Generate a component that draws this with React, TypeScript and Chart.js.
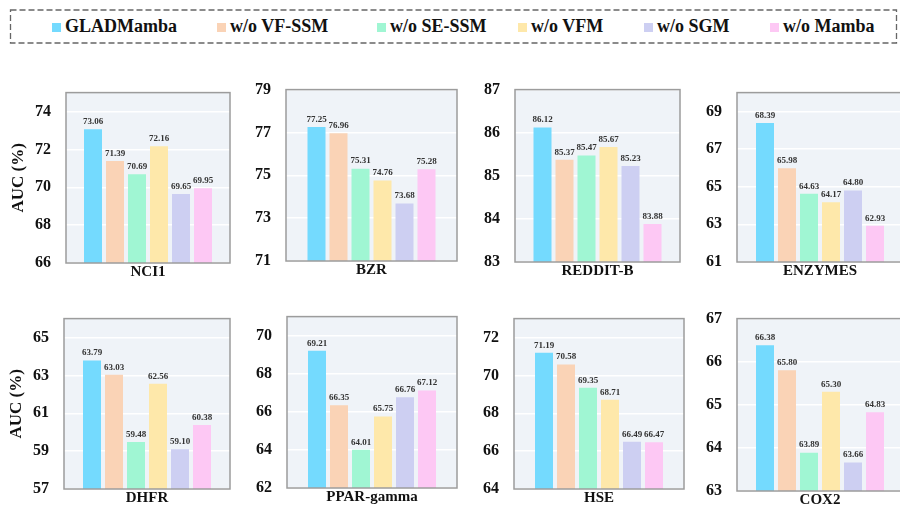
import React, { useEffect, useRef } from 'react';
import { Chart, registerables } from 'chart.js';

Chart.register(...registerables);

// ---------- data ----------
const DATASET_NAMES = ['NCI1', 'BZR', 'REDDIT-B', 'ENZYMES', 'DHFR', 'PPAR-gamma', 'HSE', 'COX2'];
const SERIES_NAMES = ['GLADMamba', 'w/o VF-SSM', 'w/o SE-SSM', 'w/o VFM', 'w/o SGM', 'w/o Mamba'];

const GLADMAMBA = [73.06, 77.25, 86.12, 68.39, 63.79, 69.21, 71.19, 66.38];
const WO_VF_SSM = [71.39, 76.96, 85.37, 65.98, 63.03, 66.35, 70.58, 65.8];
const WO_SE_SSM = [70.69, 75.31, 85.47, 64.63, 59.48, 64.01, 69.35, 63.89];
const WO_VFM = [72.16, 74.76, 85.67, 64.17, 62.56, 65.75, 68.71, 65.3];
const WO_SGM = [69.65, 73.68, 85.23, 64.8, 59.1, 66.76, 66.49, 63.66];
const WO_MAMBA = [69.95, 75.28, 83.88, 62.93, 60.38, 67.12, 66.47, 64.83];

const Y_MIN = [66, 71, 83, 61, 57, 62, 64, 63];
const Y_MAX = [75, 79, 87, 70, 66, 71, 73, 67];
const Y_TICKS = [
  [66, 68, 70, 72, 74],
  [71, 73, 75, 77, 79],
  [83, 84, 85, 86, 87],
  [61, 63, 65, 67, 69],
  [57, 59, 61, 63, 65],
  [62, 64, 66, 68, 70],
  [64, 66, 68, 70, 72],
  [63, 64, 65, 66, 67],
];

const SERIES = [GLADMAMBA, WO_VF_SSM, WO_SE_SSM, WO_VFM, WO_SGM, WO_MAMBA];

// ---------- style / layout ----------
const COLORS = ['#74DAFE', '#FAD3B6', '#A0F6D3', '#FEE8AA', '#CDCFF2', '#FDC8F4'];
const FONT = '"Liberation Serif", "Times New Roman", serif';
const PLOT_BG = '#EFF3F8';
const FRAME = '#9C9C9C';

// plot-area boxes: left, top, right, bottom
const PANEL_BOX = [
  [66, 88, 230, 263],
  [286, 85, 457, 261],
  [515, 85, 680, 262],
  [737, 88, 903, 262],
  [64, 314, 230, 489],
  [287, 312, 457, 488],
  [514, 314, 684, 489],
  [737, 314, 903, 491],
];
const Y_AXIS_W = 58;
const PAD_TOP = 20;
const X_AXIS_H = 26;
const PAD_RIGHT = 3;

const LEGEND_X = [52, 217, 377, 518, 644, 770];

const bgPlugin = {
  id: 'plotBg',
  beforeDraw(chart: any) {
    const { ctx, chartArea } = chart;
    ctx.save();
    ctx.fillStyle = PLOT_BG;
    ctx.fillRect(chartArea.left, chartArea.top, chartArea.right - chartArea.left, chartArea.bottom - chartArea.top);
    ctx.restore();
  },
};

const frameAndLabelsPlugin = {
  id: 'frameLabels',
  afterDatasetsDraw(chart: any) {
    const { ctx, chartArea } = chart;
    ctx.save();
    ctx.strokeStyle = FRAME;
    ctx.lineWidth = 1.5;
    ctx.strokeRect(chartArea.left, chartArea.top, chartArea.right - chartArea.left, chartArea.bottom - chartArea.top);
    ctx.font = `bold 9px ${FONT}`;
    ctx.fillStyle = '#333';
    ctx.textAlign = 'center';
    ctx.textBaseline = 'bottom';
    chart.data.datasets.forEach((ds: any, i: number) => {
      const meta = chart.getDatasetMeta(i);
      const bar = meta.data[0];
      if (!bar) return;
      ctx.fillText(Number(ds.data[0]).toFixed(2), bar.x, bar.y - 3);
    });
    ctx.restore();
  },
};

function Panel({ idx }: { idx: number }) {
  const ref = useRef<HTMLCanvasElement>(null);
  const [l, t, r, b] = PANEL_BOX[idx];
  const plotW = r - l;
  const w = Y_AXIS_W + plotW + PAD_RIGHT;
  const h = PAD_TOP + (b - t) + X_AXIS_H;

  useEffect(() => {
    const chart = new Chart(ref.current as HTMLCanvasElement, {
      type: 'bar',
      data: {
        labels: [DATASET_NAMES[idx]],
        datasets: SERIES.map((s, k) => ({
          label: SERIES_NAMES[k],
          data: [s[idx]],
          backgroundColor: COLORS[k],
          borderWidth: 0,
          categoryPercentage: 132 / plotW,
          barPercentage: 18 / 22,
        })),
      },
      options: {
        responsive: false,
        animation: false,
        layout: { padding: { top: PAD_TOP, right: PAD_RIGHT, left: 0, bottom: 0 } },
        plugins: { legend: { display: false }, tooltip: { enabled: false } },
        scales: {
          x: {
            grid: { display: false, drawTicks: false },
            border: { display: false },
            ticks: { font: { family: FONT, weight: 'bold', size: 15 }, color: '#111', padding: 0 },
            afterFit: (s: any) => {
              s.height = X_AXIS_H;
            },
          },
          y: {
            min: Y_MIN[idx],
            max: Y_MAX[idx],
            afterBuildTicks: (s: any) => {
              s.ticks = Y_TICKS[idx].map((v) => ({ value: v }));
            },
            grid: { color: '#FFFFFF', lineWidth: 1.5, drawTicks: false },
            border: { display: false },
            ticks: { font: { family: FONT, weight: 'bold', size: 16 }, color: '#111', padding: 15 },
            title: {
              display: idx % 4 === 0,
              text: 'AUC (%)',
              font: { family: FONT, weight: 'bold', size: 17 },
              color: '#111',
              padding: 0,
            },
            afterFit: (s: any) => {
              s.width = Y_AXIS_W;
            },
          },
        },
      } as any,
      plugins: [bgPlugin, frameAndLabelsPlugin],
    });
    return () => chart.destroy();
  }, [idx]);

  return (
    <canvas
      ref={ref}
      width={w}
      height={h}
      style={{ position: 'absolute', left: l - Y_AXIS_W, top: t - PAD_TOP, width: w, height: h }}
    />
  );
}

function Legend() {
  return (
    <svg width={900} height={50} style={{ position: 'absolute', left: 0, top: 0 }}>
      <rect x={10.5} y={10} width={886} height={33} fill="none" stroke="#666" strokeWidth={1.3} strokeDasharray="6 3" />
      {SERIES_NAMES.map((name, k) => (
        <g key={name}>
          <rect x={LEGEND_X[k]} y={23} width={9} height={9} fill={COLORS[k]} />
          <text
            x={LEGEND_X[k] + 13}
            y={32}
            fontFamily={FONT}
            fontWeight="bold"
            fontSize={18}
            fill="#111"
          >
            {name}
          </text>
        </g>
      ))}
    </svg>
  );
}

export default function App() {
  return (
    <div
      style={{
        position: 'absolute',
        left: 0,
        top: 0,
        width: 900,
        height: 508,
        overflow: 'hidden',
        background: '#fff',
      }}
    >
      <Legend />
      {DATASET_NAMES.map((_, i) => (
        <Panel key={i} idx={i} />
      ))}
    </div>
  );
}
